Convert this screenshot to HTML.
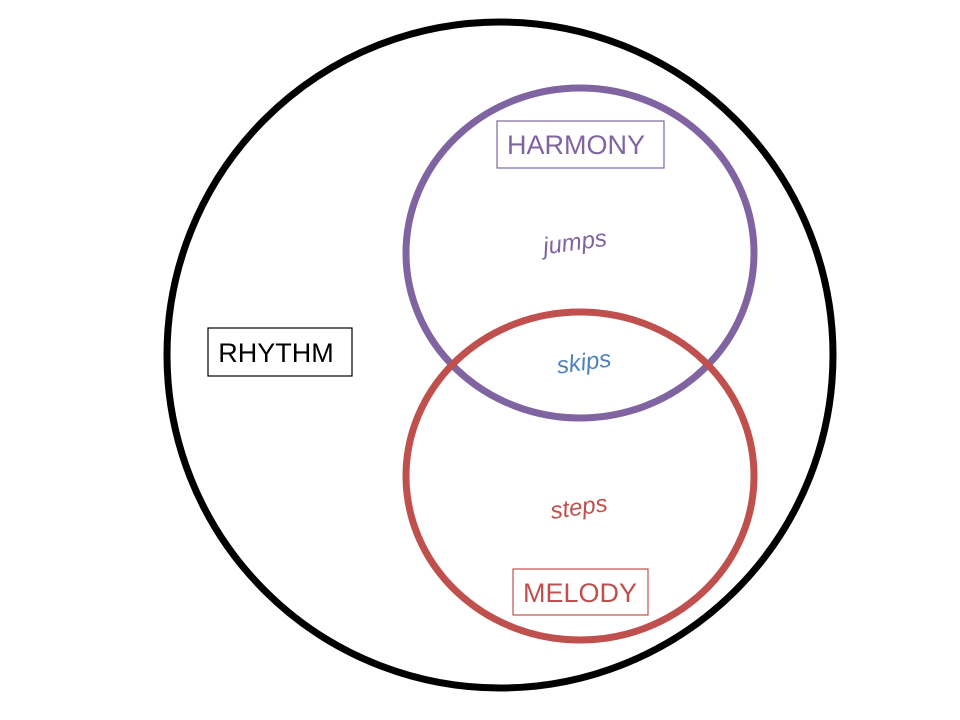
<!DOCTYPE html>
<html><head><meta charset="utf-8"><style>
html,body{margin:0;padding:0;background:#fff;}
svg{display:block}
text{font-family:"Liberation Sans",sans-serif;}
</style></head><body>
<svg width="960" height="720" viewBox="0 0 960 720" xmlns="http://www.w3.org/2000/svg">
<rect width="960" height="720" fill="#fff"/>
<ellipse cx="500" cy="355" rx="333" ry="333" fill="none" stroke="#000" stroke-width="7"/>
<ellipse cx="580" cy="253" rx="174" ry="165" fill="none" stroke="#8064a2" stroke-width="7"/>
<ellipse cx="580" cy="476" rx="174" ry="164" fill="none" stroke="#c0504d" stroke-width="7"/>
<rect x="497" y="121" width="167" height="47" fill="#fff" stroke="#8064a2" stroke-width="1.2"/>
<text x="576" y="154" font-size="27" fill="#8064a2" text-anchor="middle">HARMONY</text>
<rect x="513" y="569" width="135" height="46" fill="#fff" stroke="#c0504d" stroke-width="1.2"/>
<text x="580" y="602" font-size="27" fill="#c0504d" text-anchor="middle">MELODY</text>
<rect x="208" y="328" width="144" height="48" fill="#fff" stroke="#000" stroke-width="1.2"/>
<text x="276" y="362" font-size="27" fill="#000" text-anchor="middle">RHYTHM</text>
<text x="576" y="250" font-size="24" font-style="italic" fill="#8064a2" text-anchor="middle" transform="rotate(-8 576 250)">jumps</text>
<text x="585" y="370" font-size="24" font-style="italic" fill="#4f81bd" text-anchor="middle" transform="rotate(-8 585 370)">skips</text>
<text x="580" y="515" font-size="24" font-style="italic" fill="#c0504d" text-anchor="middle" transform="rotate(-8 580 515)">steps</text>
</svg>
</body></html>
